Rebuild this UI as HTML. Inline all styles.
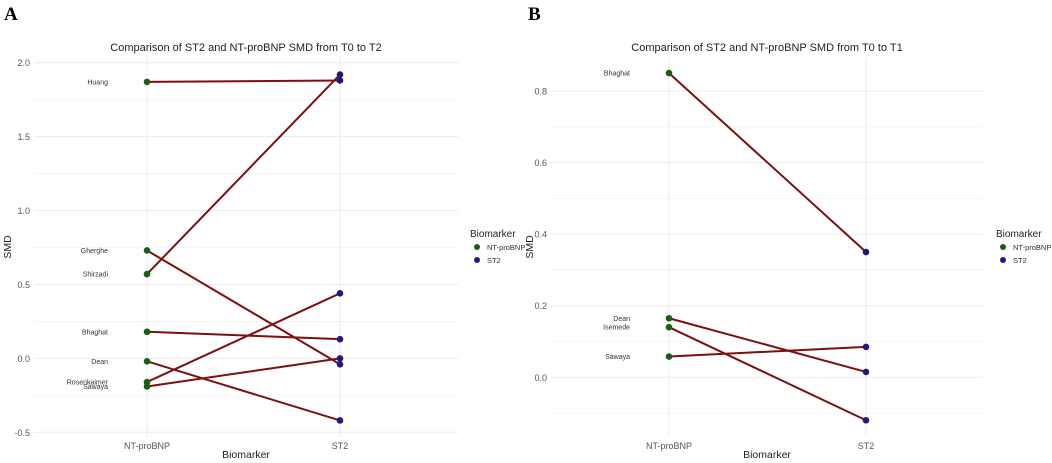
<!DOCTYPE html>
<html><head><meta charset="utf-8"><style>
body{margin:0;background:#fff;}
svg{display:block;font-family:"Liberation Sans",sans-serif;}
</style></head><body>
<svg id="s" width="1052" height="463" viewBox="0 0 1052 463">
<text x="4" y="20" font-family="Liberation Serif" font-weight="bold" font-size="19">A</text>
<text x="528" y="20" font-family="Liberation Serif" font-weight="bold" font-size="19">B</text>
</svg>
<script>
// Panel A data
const aStudies=["Huang","Shirzadi","Gherghe","Bhaghat","Dean","Rosenkaimer","Sawaya"];
const aNT=[1.87,0.57,0.73,0.18,-0.02,-0.16,-0.19];
const aST2=[1.88,1.92,-0.04,0.13,-0.42,0.44,0.00];
const aTicks=[-0.5,0.0,0.5,1.0,1.5,2.0];
// Panel B data
const bStudies=["Bhaghat","Dean","Isemede","Sawaya"];
const bNT=[0.85,0.165,0.14,0.058];
const bST2=[0.35,0.015,-0.12,0.085];
const bTicks=[0.0,0.2,0.4,0.6,0.8];
const categories=["NT-proBNP","ST2"];

const NS="http://www.w3.org/2000/svg";
const svg=document.getElementById('s');
function mk(tag,attrs,parent){const e=document.createElementNS(NS,tag);for(const k in attrs)e.setAttribute(k,attrs[k]);(parent||svg).appendChild(e);return e;}

function panel(id,cfg){
  const g=mk('g',{});
  
  
  const y=v=>cfg.y0px+(v-cfg.v0)*(cfg.y1px-cfg.y0px)/(cfg.v1-cfg.v0);
  const xs=[cfg.xNT,cfg.xST];
  for(let i=0;i<cfg.ticks.length+1;i++){
    const v=cfg.ticks[0]+(i-0.5)*cfg.step;
    const yy=y(v); if(yy<cfg.top||yy>cfg.bottom)continue;
    const l=mk('line',{x1:cfg.left,x2:cfg.right,y1:yy,y2:yy,stroke:'#f3f3f3','stroke-width':0.8},g);
    
    
  }
  cfg.ticks.forEach(t=>{
    const yy=y(t);
    const l=mk('line',{x1:cfg.left,x2:cfg.right,y1:yy,y2:yy,stroke:'#ebebeb','stroke-width':1},g);
    
    
    const tx=mk('text',{x:cfg.left-4,y:yy+3.5,'text-anchor':'end','font-size':9,fill:'#555'},g);
    tx.textContent=t.toFixed(1);
    
    
  });
  xs.forEach((x,i)=>{
    const l=mk('line',{x1:x,x2:x,y1:cfg.top,y2:cfg.bottom,stroke:'#ebebeb','stroke-width':1},g);
    
    
    const tx=mk('text',{x:x,y:cfg.bottom+13,'text-anchor':'middle','font-size':9,fill:'#555'},g);
    tx.textContent=categories[i];
    
    
  });
  cfg.studies.forEach((s,i)=>{
    const l=mk('line',{x1:cfg.xNT,y1:y(cfg.nt[i]),x2:cfg.xST,y2:y(cfg.st[i]),stroke:'#7d0f0f','stroke-width':2},g);
    
    
  });
  cfg.studies.forEach((s,i)=>{
    const c1=mk('circle',{cx:cfg.xNT,cy:y(cfg.nt[i]),r:3.3,fill:'#1a5e14'},g);
    
    
    const c2=mk('circle',{cx:cfg.xST,cy:y(cfg.st[i]),r:3.3,fill:'#1c1c80'},g);
    
    
    const tx=mk('text',{x:cfg.xNT-39,y:y(cfg.nt[i])+2.5,'text-anchor':'end','font-size':7,fill:'#333'},g);
    tx.textContent=s;
    
    
  });
  const t=mk('text',{x:(cfg.left+cfg.right)/2,y:51,'text-anchor':'middle','font-size':11,fill:'#222'},g);
  t.textContent=cfg.title;
  
  
  const xl=mk('text',{x:(cfg.left+cfg.right)/2,y:458,'text-anchor':'middle','font-size':10.5,fill:'#222'},g);
  xl.textContent='Biomarker';
  
  
  const yc=(cfg.top+cfg.bottom)/2;
  const yl=mk('text',{x:cfg.yTitleX,y:yc,'text-anchor':'middle','font-size':10.5,fill:'#222',transform:`rotate(-90 ${cfg.yTitleX} ${yc})`},g);
  yl.textContent='SMD';
  
  
  const lt=mk('text',{x:cfg.legX,y:237,'font-size':10,fill:'#222'},g);
  lt.textContent='Biomarker';
  
  
  [['NT-proBNP','#1a5e14',247],['ST2','#1c1c80',260]].forEach(([n,c,yy])=>{
    const d=mk('circle',{cx:cfg.legX+7,cy:yy,r:3,fill:c},g);
    
    
    const tx=mk('text',{x:cfg.legX+17,y:yy+3,'font-size':7.5,fill:'#333'},g);
    tx.textContent=n;
    
    
  });
}
panel('a',{studies:aStudies,nt:aNT,st:aST2,ticks:aTicks,step:0.5,v0:2.0,v1:-0.5,y0px:62.7,y1px:432.3,
  xNT:147,xST:340,left:34,right:458,top:58,bottom:436,yTitleX:11,title:'Comparison of ST2 and NT-proBNP SMD from T0 to T2',legX:470});
panel('b',{studies:bStudies,nt:bNT,st:bST2,ticks:bTicks,step:0.2,v0:0.8,v1:0.0,y0px:91,y1px:377.3,
  xNT:669,xST:866,left:551,right:983,top:58,bottom:436,yTitleX:533,title:'Comparison of ST2 and NT-proBNP SMD from T0 to T1',legX:996});
</script>
</body></html>
